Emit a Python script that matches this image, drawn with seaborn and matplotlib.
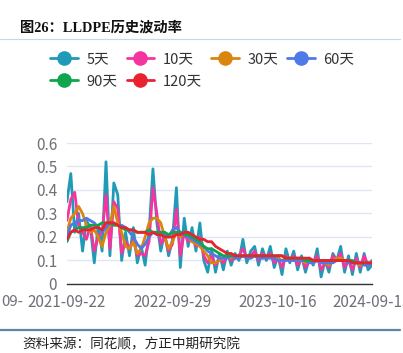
import pandas as pd
import matplotlib
matplotlib.use('Agg')
import matplotlib.pyplot as plt
from matplotlib.lines import Line2D
import seaborn as sns

# data (one point ~ every 7-8 trading days)
series_names = ['5天', '10天', '30天', '60天', '90天', '120天']
series_colors = ['#1f9bb8', '#f5359f', '#d9860f', '#5079e8', '#0ea54e', '#e8232f']
tick_pos = [0, 27, 54, 78]
tick_labels = ['2021-09-22', '2022-09-29', '2023-10-16', '2024-09-13']
y_ticks = [0, 0.1, 0.2, 0.3, 0.4, 0.5, 0.6]
y_labels = ['0', '0.1', '0.2', '0.3', '0.4', '0.5', '0.6']

vol_5 = [0.35, 0.47, 0.22, 0.30, 0.14, 0.27, 0.24, 0.09, 0.25, 0.14,
         0.52, 0.12, 0.43, 0.38, 0.10, 0.22, 0.12, 0.24, 0.09, 0.16,
         0.08, 0.22, 0.49, 0.26, 0.14, 0.22, 0.12, 0.19, 0.41, 0.07,
         0.28, 0.16, 0.24, 0.14, 0.26, 0.10, 0.05, 0.15, 0.05, 0.13,
         0.06, 0.14, 0.08, 0.13, 0.10, 0.19, 0.09, 0.14, 0.16, 0.08,
         0.15, 0.10, 0.16, 0.07, 0.12, 0.04, 0.15, 0.09, 0.14, 0.06,
         0.12, 0.05, 0.11, 0.08, 0.15, 0.03, 0.10, 0.05, 0.13, 0.10,
         0.16, 0.05, 0.12, 0.04, 0.13, 0.05, 0.13, 0.06, 0.08]
vol_10 = [0.27, 0.36, 0.39, 0.25, 0.22, 0.19, 0.25, 0.14, 0.20, 0.22,
          0.38, 0.15, 0.35, 0.32, 0.13, 0.18, 0.15, 0.19, 0.12, 0.13,
          0.12, 0.18, 0.41, 0.30, 0.17, 0.20, 0.14, 0.17, 0.32, 0.12,
          0.22, 0.18, 0.20, 0.16, 0.20, 0.12, 0.09, 0.12, 0.08, 0.11,
          0.09, 0.12, 0.10, 0.11, 0.12, 0.15, 0.11, 0.12, 0.14, 0.10,
          0.13, 0.11, 0.13, 0.09, 0.11, 0.07, 0.12, 0.10, 0.12, 0.08,
          0.11, 0.07, 0.10, 0.09, 0.12, 0.06, 0.09, 0.07, 0.12, 0.10,
          0.13, 0.07, 0.10, 0.06, 0.11, 0.07, 0.12, 0.08, 0.10]
vol_30 = [0.22, 0.28, 0.30, 0.33, 0.30, 0.25, 0.22, 0.23, 0.20, 0.16,
          0.22, 0.25, 0.33, 0.26, 0.22, 0.16, 0.15, 0.18, 0.13, 0.15,
          0.20, 0.26, 0.28, 0.28, 0.26, 0.20, 0.15, 0.18, 0.22, 0.20,
          0.22, 0.20, 0.18, 0.17, 0.16, 0.14, 0.12, 0.09, 0.09, 0.10,
          0.11, 0.12, 0.11, 0.12, 0.11, 0.12, 0.12, 0.11, 0.12, 0.12,
          0.11, 0.12, 0.12, 0.11, 0.11, 0.10, 0.11, 0.11, 0.10, 0.10,
          0.10, 0.09, 0.10, 0.09, 0.10, 0.09, 0.09, 0.08, 0.10, 0.11,
          0.11, 0.10, 0.10, 0.09, 0.09, 0.08, 0.09, 0.08, 0.08]
vol_60 = [0.20, 0.25, 0.26, 0.27, 0.27, 0.28, 0.27, 0.26, 0.24, 0.22,
          0.24, 0.26, 0.26, 0.25, 0.25, 0.24, 0.22, 0.20, 0.17, 0.15,
          0.17, 0.20, 0.22, 0.22, 0.22, 0.21, 0.20, 0.23, 0.24, 0.22,
          0.21, 0.20, 0.19, 0.18, 0.17, 0.16, 0.14, 0.13, 0.12, 0.11,
          0.11, 0.11, 0.12, 0.11, 0.11, 0.12, 0.11, 0.11, 0.12, 0.11,
          0.11, 0.11, 0.11, 0.11, 0.10, 0.10, 0.10, 0.10, 0.10, 0.10,
          0.10, 0.10, 0.09, 0.09, 0.10, 0.09, 0.09, 0.09, 0.09, 0.10,
          0.10, 0.10, 0.09, 0.09, 0.09, 0.09, 0.08, 0.08, 0.08]
vol_90 = [0.18, 0.22, 0.23, 0.24, 0.24, 0.24, 0.25, 0.25, 0.25, 0.26,
          0.26, 0.26, 0.25, 0.25, 0.24, 0.23, 0.23, 0.23, 0.22, 0.22,
          0.22, 0.23, 0.22, 0.22, 0.22, 0.22, 0.21, 0.22, 0.22, 0.22,
          0.21, 0.21, 0.20, 0.19, 0.18, 0.16, 0.15, 0.15, 0.14, 0.13,
          0.12, 0.12, 0.12, 0.12, 0.12, 0.12, 0.12, 0.12, 0.12, 0.12,
          0.12, 0.12, 0.12, 0.12, 0.12, 0.12, 0.11, 0.11, 0.11, 0.11,
          0.11, 0.10, 0.10, 0.10, 0.10, 0.10, 0.10, 0.10, 0.10, 0.10,
          0.10, 0.10, 0.10, 0.10, 0.09, 0.09, 0.09, 0.09, 0.09]
vol_120 = [0.19, 0.22, 0.23, 0.22, 0.23, 0.23, 0.23, 0.24, 0.24, 0.23,
           0.26, 0.26, 0.26, 0.25, 0.24, 0.24, 0.23, 0.23, 0.22, 0.22,
           0.22, 0.21, 0.22, 0.21, 0.21, 0.20, 0.20, 0.20, 0.21, 0.21,
           0.22, 0.22, 0.21, 0.20, 0.19, 0.19, 0.18, 0.18, 0.16, 0.15,
           0.14, 0.13, 0.13, 0.12, 0.12, 0.12, 0.12, 0.12, 0.12, 0.12,
           0.12, 0.12, 0.12, 0.12, 0.12, 0.12, 0.11, 0.11, 0.11, 0.11,
           0.11, 0.11, 0.11, 0.10, 0.10, 0.10, 0.10, 0.10, 0.10, 0.10,
           0.10, 0.10, 0.10, 0.09, 0.09, 0.09, 0.09, 0.09, 0.09]

all_series = [vol_5, vol_10, vol_30, vol_60, vol_90, vol_120]

# long table for seaborn
frames = []
for name, vals in zip(series_names, all_series):
    frames.append(pd.DataFrame({'idx': range(len(vals)), 'vol': vals, 'series': name}))
data = pd.concat(frames, ignore_index=True)

sns.set_theme(style='white')
plt.rcParams['font.family'] = ['Noto Sans CJK SC', 'DejaVu Sans']

fig = plt.figure(figsize=(4.03, 3.53), dpi=100)
ax = fig.add_axes([0.166, 0.1955, 0.757, 0.3994])

sns.lineplot(data=data, x='idx', y='vol', hue='series', hue_order=series_names,
             palette=series_colors, linewidth=2.0, legend=False, ax=ax)

ax.set_xlim(0, 78)
ax.set_ylim(0, 0.6)
ax.set_yticks(y_ticks)
ax.set_yticklabels(y_labels)
ax.set_xticks(tick_pos)
ax.set_xticklabels(tick_labels)
ax.set_xlabel('')
ax.set_ylabel('')
ax.grid(axis='y', color='#e0e6f1', linewidth=1)
ax.set_axisbelow(True)
for s in ['top', 'right', 'left']:
    ax.spines[s].set_visible(False)
ax.spines['bottom'].set_color('#333333')
ax.spines['bottom'].set_linewidth(1)
ax.tick_params(axis='x', colors='#333333', length=4, width=1, pad=3,
               labelcolor='#6e7079', labelsize=11)
ax.tick_params(axis='y', length=0, pad=7, labelcolor='#6e7079', labelsize=11)

# what is left of the label before the first one, at the left edge
fig.text(1 / 403, 1 - 295 / 353, '09-', ha='left', va='top',
         color='#6e7079', fontsize=10.8)

# legend, row-major order for 4 columns
handles = [Line2D([0], [0], color=c, lw=2.0, marker='o', markersize=9.5)
           for c in series_colors]
order = [0, 4, 1, 5, 2, 3]
fig.legend([handles[i] for i in order], [series_names[i] for i in order],
           ncol=4, loc='upper left', bbox_to_anchor=(43 / 403, 1 - 45 / 353),
           frameon=False, fontsize=10.5, handlelength=1.9, handletextpad=0.6,
           columnspacing=0.6, labelspacing=0.55, borderpad=0,
           labelcolor='#333333')

# title and source
fig.text(20 / 403, 1 - 28 / 353, '图26：LLDPE历史波动率', ha='left', va='center',
         fontsize=10.3, fontweight='bold', color='#111111',
         family=['Liberation Serif', 'Noto Sans CJK SC'])
fig.add_artist(Line2D([0, 400 / 403], [1 - 39 / 353, 1 - 39 / 353],
                      color='#c8d6e5', lw=0.8))
fig.add_artist(Line2D([0, 400 / 403], [1 - 330 / 353, 1 - 330 / 353],
                      color='#5b87a8', lw=1.6))
fig.text(22 / 403, 1 - 344 / 353, '资料来源：同花顺，方正中期研究院', ha='left',
         va='center', fontsize=9.8, style='italic', color='#222222')

fig.savefig('out.png', dpi=100)
